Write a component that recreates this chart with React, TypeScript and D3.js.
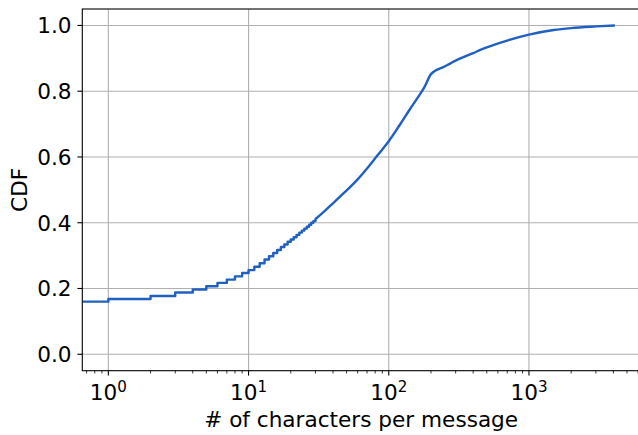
import {useEffect, useRef} from 'react';
import * as d3 from 'd3';

// integer message lengths, drawn as a step CDF
const stepChars = [1, 2, 3, 4, 5, 6, 7, 8, 9, 10, 11, 12, 13, 14, 15, 16, 17, 18, 19, 20, 21, 22, 23, 24, 25, 26, 27, 28, 29, 30];
const stepCdf = [
  0.168, 0.177, 0.188, 0.197, 0.207, 0.217, 0.227, 0.237, 0.247, 0.256, 0.266, 0.277, 0.288, 0.298, 0.308,
  0.317, 0.326, 0.334, 0.342, 0.349, 0.356, 0.363, 0.37, 0.376, 0.382, 0.388, 0.394, 0.4, 0.405, 0.411,
];
// share of empty messages (length 0, left of the log axis)
const emptyCdf = 0.16;

// longer messages, dense enough to look smooth
const tailChars = [35, 40, 47.5, 60, 70, 80, 90, 100, 120, 140, 160, 180, 200, 250, 300, 400, 500, 700, 1000, 1500, 2000, 3000, 4100];
const tailCdf = [
  0.436, 0.459, 0.489, 0.532, 0.565, 0.596, 0.623, 0.648, 0.698, 0.742, 0.779, 0.813, 0.852, 0.875, 0.893, 0.916,
  0.933, 0.954, 0.972, 0.986, 0.992, 0.997, 1.0,
];

const xTicks = [1, 10, 100, 1000];
const yTicks = [0, 0.2, 0.4, 0.6, 0.8, 1.0];

export default function App() {
  const svgRef = useRef<SVGSVGElement>(null);

  useEffect(() => {
    if (!svgRef.current) return;
    const width = 638;
    const height = 435;
    const fontSize = 21.6;
    const font = '"DejaVu Sans", sans-serif';

    const svg = d3.select(svgRef.current);
    svg.selectAll('*').remove();
    svg.attr('width', width).attr('height', height);

    const left = 82.3;
    const right = 640;
    const top = 9;
    const bottom = 370.7;

    const x = d3.scaleLog().domain([0.652, 6194]).range([left, right]);
    const y = d3.scaleLinear().domain([-0.05, 1.05]).range([bottom, top]);

    svg.append('rect').attr('width', width).attr('height', height).attr('fill', '#ffffff');

    svg
      .append('defs')
      .append('clipPath')
      .attr('id', 'plot-clip')
      .append('rect')
      .attr('x', left)
      .attr('y', top)
      .attr('width', right - left)
      .attr('height', bottom - top);

    // grid
    const grid = svg.append('g').attr('stroke', '#b0b0b0').attr('stroke-width', 1.1);
    xTicks.forEach((t) => {
      grid.append('line').attr('x1', x(t)).attr('x2', x(t)).attr('y1', top).attr('y2', bottom);
    });
    yTicks.forEach((t) => {
      grid.append('line').attr('x1', left).attr('x2', right).attr('y1', y(t)).attr('y2', y(t));
    });

    // cdf line
    const pts: [number, number][] = [[x.domain()[0], emptyCdf]];
    stepChars.forEach((c, i) => pts.push([c, stepCdf[i]]));
    const stepLine = d3
      .line<[number, number]>()
      .x((d) => x(d[0]))
      .y((d) => y(d[1]))
      .curve(d3.curveStepAfter);
    const tailPts: [number, number][] = [[stepChars[stepChars.length - 1], stepCdf[stepCdf.length - 1]]];
    tailChars.forEach((c, i) => tailPts.push([c, tailCdf[i]]));
    const tailLine = d3
      .line<[number, number]>()
      .x((d) => x(d[0]))
      .y((d) => y(d[1]))
      .curve(d3.curveMonotoneX);

    const stepPath = stepLine(pts) || '';
    const tailPath = (tailLine(tailPts) || '').replace(/^M/, 'L');
    svg
      .append('path')
      .attr('clip-path', 'url(#plot-clip)')
      .attr('d', stepPath + tailPath)
      .attr('fill', 'none')
      .attr('stroke', '#2060c0')
      .attr('stroke-width', 2.4)
      .attr('stroke-linejoin', 'round');

    // spines
    const spines = svg.append('g').attr('stroke', '#000').attr('stroke-width', 1.1).attr('fill', 'none');
    spines.append('rect').attr('x', left).attr('y', top).attr('width', right - left).attr('height', bottom - top);

    // x ticks
    const xAxis = svg.append('g');
    const minor: number[] = [];
    for (let e = -1; e <= 3; e++) {
      for (let m = 2; m <= 9; m++) {
        const v = m * Math.pow(10, e);
        if (v >= x.domain()[0] && v <= x.domain()[1]) minor.push(v);
      }
    }
    minor.forEach((v) => {
      xAxis
        .append('line')
        .attr('x1', x(v))
        .attr('x2', x(v))
        .attr('y1', bottom)
        .attr('y2', bottom + 2.8)
        .attr('stroke', '#000')
        .attr('stroke-width', 0.8);
    });
    xTicks.forEach((t) => {
      xAxis
        .append('line')
        .attr('x1', x(t))
        .attr('x2', x(t))
        .attr('y1', bottom)
        .attr('y2', bottom + 4.9)
        .attr('stroke', '#000')
        .attr('stroke-width', 1.1);
      const label = xAxis
        .append('text')
        .attr('x', x(t))
        .attr('y', 400)
        .attr('text-anchor', 'middle')
        .attr('font-family', font)
        .attr('font-size', fontSize)
        .attr('fill', '#000');
      label.append('tspan').text('10');
      label
        .append('tspan')
        .attr('dy', -8.5)
        .attr('font-size', fontSize * 0.7)
        .text(String(Math.round(Math.log10(t))));
    });

    // y ticks
    const yAxis = svg.append('g');
    yTicks.forEach((t) => {
      yAxis
        .append('line')
        .attr('x1', left - 4.9)
        .attr('x2', left)
        .attr('y1', y(t))
        .attr('y2', y(t))
        .attr('stroke', '#000')
        .attr('stroke-width', 1.1);
      yAxis
        .append('text')
        .attr('x', 71.5)
        .attr('y', y(t))
        .attr('dy', '0.36em')
        .attr('text-anchor', 'end')
        .attr('font-family', font)
        .attr('font-size', fontSize)
        .attr('fill', '#000')
        .text(d3.format('.1f')(t));
    });

    svg
      .append('text')
      .attr('x', (left + right) / 2)
      .attr('y', 426.5)
      .attr('text-anchor', 'middle')
      .attr('font-family', font)
      .attr('font-size', fontSize)
      .attr('fill', '#000')
      .text('# of characters per message');

    svg
      .append('text')
      .attr('transform', `translate(26.5, ${(top + bottom) / 2}) rotate(-90)`)
      .attr('text-anchor', 'middle')
      .attr('font-family', font)
      .attr('font-size', fontSize)
      .attr('fill', '#000')
      .text('CDF');
  }, []);

  return (
    <div>
      <svg ref={svgRef} style={{position: 'absolute', left: 0, top: 0, display: 'block'}} />
    </div>
  );
}
